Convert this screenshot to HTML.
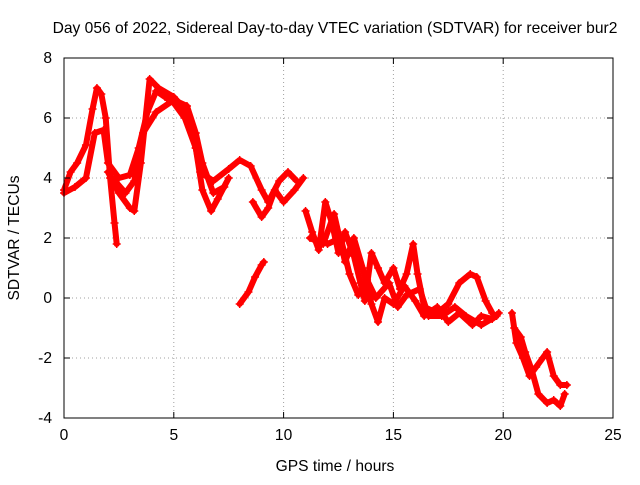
<!DOCTYPE html>
<html><head><meta charset="utf-8"><style>
body{margin:0;background:#fff}
svg text{font-family:"Liberation Sans",sans-serif;font-size:15.6px;fill:#000}
</style></head><body>
<svg id="c" width="640" height="480">
<rect width="640" height="480" fill="#fff"/>
<text x="335" y="33" text-anchor="middle">Day 056 of 2022, Sidereal Day-to-day VTEC variation (SDTVAR) for receiver bur2</text>
<text x="335" y="471" text-anchor="middle">GPS time / hours</text>
<text transform="translate(19,238) rotate(-90)" text-anchor="middle">SDTVAR / TECUs</text>
<g id="grid"></g><g id="data"></g><g id="axes"></g>
</svg>
<script>
const xTicks=[0,5,10,15,20,25];
const yTicks=[-4,-2,0,2,4,6,8];
const series=[
[[0,3.6],[0.3,4.2],[0.6,4.5],[1.0,5.1],[1.3,6.3],[1.5,7.0],[1.7,6.8],[1.9,6.0],[2.1,4.0],[2.3,2.5],[2.4,1.8]],
[[0,3.5],[0.5,3.7],[1.0,4.0],[1.4,5.5],[1.8,5.6],[2.0,4.5],[2.5,4.0],[3.0,4.1],[3.4,5.0],[3.8,6.2],[4.2,6.9],[4.6,6.7],[5.0,6.5],[5.5,6.0],[6.0,5.0],[6.2,4.2],[6.8,3.9],[7.5,4.3],[8.0,4.6],[8.5,4.4],[9.0,3.6],[9.3,3.2],[9.8,3.9],[10.2,4.2],[10.6,3.9]],
[[2.0,4.2],[2.5,3.5],[3.0,3.0],[3.2,2.9],[3.5,4.5],[3.9,7.3],[4.3,7.0],[5.0,6.7],[5.5,6.3],[6.0,5.0],[6.3,3.6],[6.7,2.9],[7.0,3.3],[7.5,4.0]],
[[2.2,4.0],[2.8,3.5],[3.2,3.9],[3.6,5.5],[4.2,6.2],[5.0,6.6],[5.6,6.4],[6.0,5.5],[6.3,4.5],[6.8,3.5],[7.3,3.7]],
[[8.0,-0.2],[8.4,0.2],[8.7,0.7],[9.0,1.1],[9.1,1.2]],
[[8.6,3.2],[9.0,2.7],[9.3,3.0],[9.6,3.6],[10.0,3.2],[10.5,3.6],[10.9,4.0]],
[[11.0,2.9],[11.3,2.2],[11.6,1.6],[11.9,3.2],[12.2,2.5],[12.5,1.5],[12.8,2.2],[13.2,1.4],[13.5,0.5],[13.7,-0.1],[14.0,1.5],[14.3,1.0],[14.6,0.5],[15.0,1.0],[15.3,0.3],[15.6,0.8],[15.9,1.8],[16.1,0.8],[16.4,-0.3],[17.0,-0.5],[17.5,-0.2],[18.0,0.5],[18.5,0.8],[18.8,0.7],[19.2,-0.1],[19.5,-0.5]],
[[11.2,2.0],[11.8,1.8],[12.3,2.8],[12.8,1.2],[13.2,2.0],[13.6,1.0],[14.0,-0.2],[14.3,-0.8],[14.6,0.0],[15.0,-0.2],[15.5,0.4],[16.0,-0.1],[16.4,-0.6],[17.0,-0.3],[17.5,-0.8],[18.0,-0.5],[18.6,-0.9],[19.0,-0.6],[19.5,-0.7],[19.8,-0.5]],
[[12.0,1.8],[12.6,2.0],[13.0,0.8],[13.4,0.1],[13.8,0.6],[14.2,0.0],[14.8,0.5],[15.2,-0.3],[15.6,0.1],[16.2,0.3],[16.6,-0.6],[17.2,-0.6],[17.8,-0.3],[18.3,-0.6],[19.0,-0.9],[19.7,-0.6]],
[[20.4,-0.5],[20.6,-1.5],[20.9,-2.0],[21.2,-2.6],[21.5,-2.3],[21.8,-2.0],[22.0,-1.8],[22.3,-2.6],[22.6,-2.9],[22.9,-2.9]],
[[20.5,-1.0],[20.8,-1.3],[21.0,-1.8],[21.3,-2.4],[21.6,-3.2],[22.0,-3.5],[22.3,-3.4],[22.6,-3.6],[22.8,-3.2]]
];
const L=64,R=613,T=58,B=418;
const sx=t=>L+(t-0)/(25-0)*(R-L);
const sy=v=>B-(v+4)/(12)*(B-T);
const NS="http://www.w3.org/2000/svg";
function mk(tag,attrs,parent){const e=document.createElementNS(NS,tag);for(const k in attrs)e.setAttribute(k,attrs[k]);parent.appendChild(e);return e;}
const grid=document.getElementById('grid'),axes=document.getElementById('axes'),data=document.getElementById('data');
xTicks.forEach(t=>{
  const x=sx(t);
  if(t>0&&t<25){const g=mk('line',{x1:x,x2:x,y1:T,y2:B,stroke:'#a0a0a0','stroke-dasharray':'1,3'},grid);
  
  }
  mk('line',{x1:x,x2:x,y1:B,y2:B-6,stroke:'#000'},axes);
  mk('line',{x1:x,x2:x,y1:T,y2:T+6,stroke:'#000'},axes);
  const tx=mk('text',{x:x,y:B+22,'text-anchor':'middle'},axes);tx.textContent=t;
  
  
});
yTicks.forEach(v=>{
  const y=sy(v);
  if(v>-4&&v<8){const g=mk('line',{x1:L,x2:R,y1:y,y2:y,stroke:'#a0a0a0','stroke-dasharray':'1,3'},grid);
  
  }
  mk('line',{x1:L,x2:L+6,y1:y,y2:y,stroke:'#000'},axes);
  mk('line',{x1:R,x2:R-6,y1:y,y2:y,stroke:'#000'},axes);
  const tx=mk('text',{x:L-12,y:y+5,'text-anchor':'end'},axes);tx.textContent=v;
  
  
});
const fr=mk('rect',{x:L,y:T,width:R-L,height:B-T,fill:'none',stroke:'#000'},axes);


series.forEach((s,i)=>{
  const p=mk('polyline',{points:s.map(d=>sx(d[0])+','+sy(d[1])).join(' '),fill:'none',stroke:'#f00','stroke-width':6,'stroke-linejoin':'round','stroke-linecap':'round'},data);
  
  
  s.forEach(d=>{
    const m=mk('path',{d:`M${sx(d[0])-4},${sy(d[1])}h8M${sx(d[0])},${sy(d[1])-4}v8`,stroke:'#f00','stroke-width':1.5},data);
    
    
  });
});
</script>
</body></html>
